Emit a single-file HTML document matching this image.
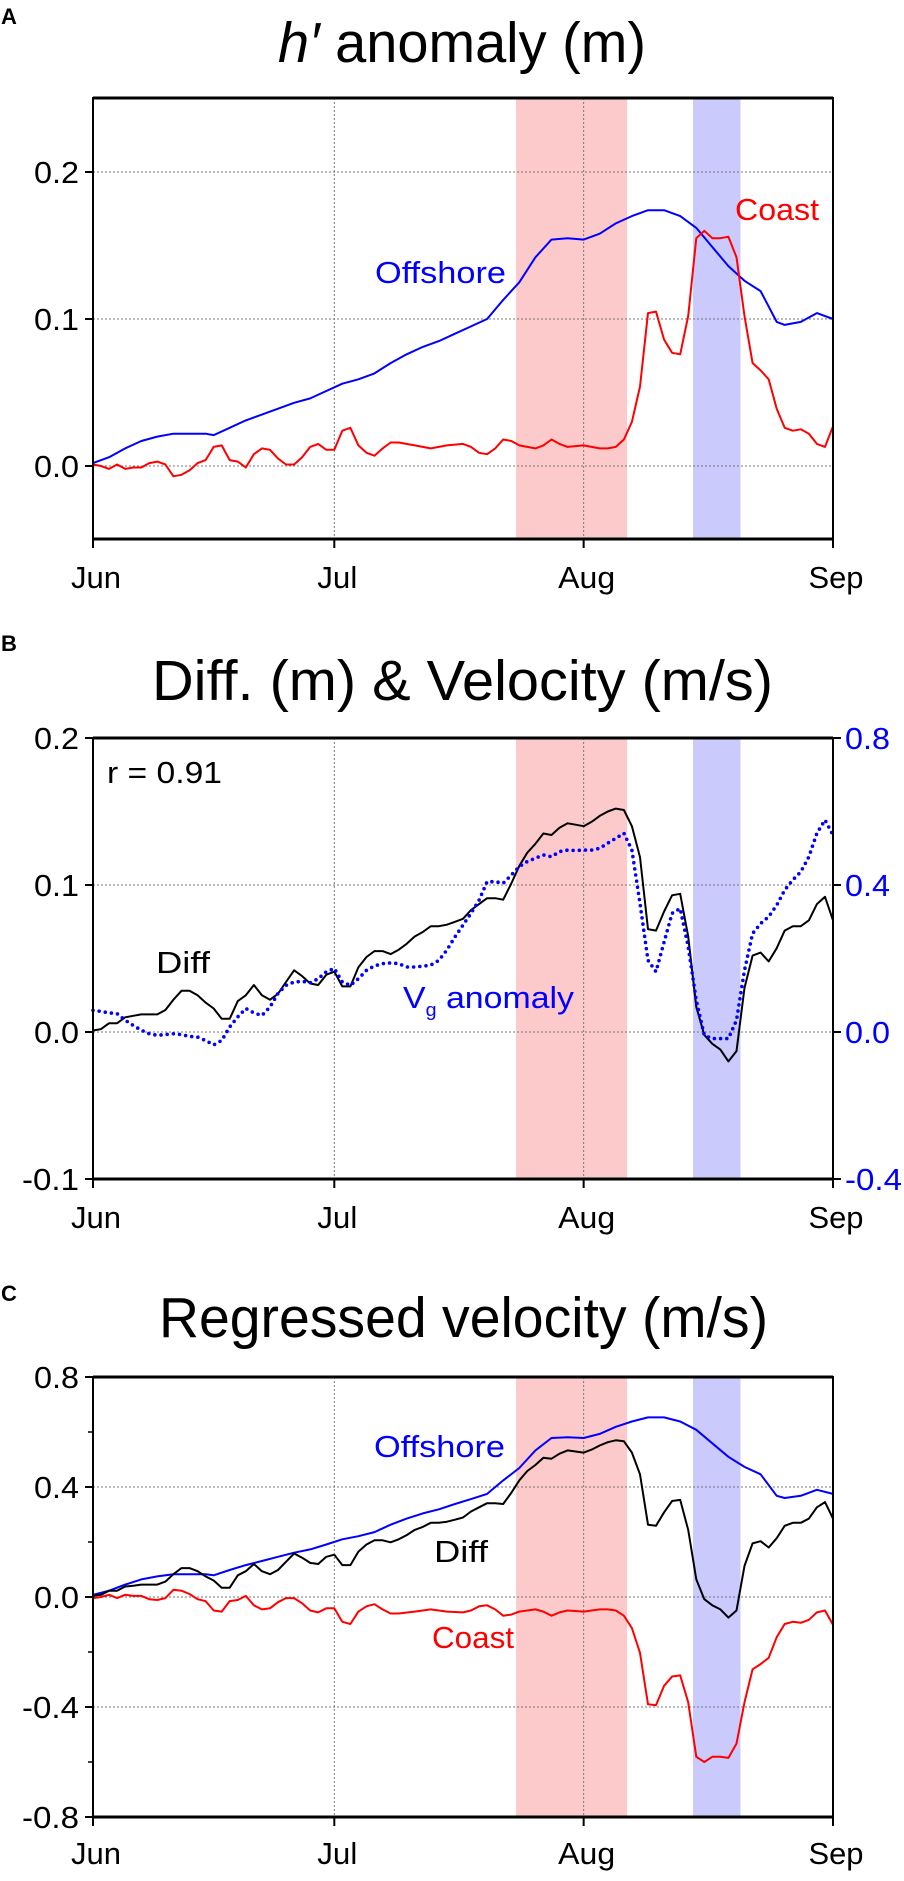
<!DOCTYPE html>
<html><head><meta charset="utf-8"><style>
html,body{margin:0;padding:0;background:#fff}
svg text{font-family:"Liberation Sans",sans-serif}
</style></head><body>
<svg id="fig" width="904" height="1876" viewBox="0 0 904 1876" xmlns="http://www.w3.org/2000/svg"></svg>
<script>
// ---- shared data ----
const monthLabels = ["Jun","Jul","Aug","Sep"];
const monthDays = [0,30,61,92];
const bandStarts = [52.6, 74.6];
const bandEnds = [66.4, 80.5];

// Panel A
const offADays = [0,2,4,6,8,10,12,14,15,17,19,21,23,25,27,29,31,33,35,37,39,41,43,45,47,49,51,53,55,57,59,61,63,65,67,69,71,73,75,77,79,81,83,85,86,88,90,92];
const offAVals = [0.002,0.006,0.012,0.017,0.020,0.022,0.022,0.022,0.021,0.026,0.031,0.035,0.039,0.043,0.046,0.051,0.056,0.059,0.063,0.070,0.076,0.081,0.085,0.090,0.095,0.100,0.113,0.125,0.142,0.154,0.155,0.154,0.158,0.165,0.170,0.174,0.174,0.170,0.162,0.149,0.136,0.126,0.119,0.098,0.096,0.098,0.104,0.100];
const coastDays = [0,1,2,3,4,5,6,7,8,9,10,11,12,13,14,15,16,17,18,19,20,21,22,23,24,25,26,27,28,29,30,31,32,33,34,35,36,37,38,40,42,44,46,47,48,49,50,51,52,53,55,56,57,58,59,61,63,64,65,66,67,68,69,70,71,72,73,74,75,76,77,78,79,80,81,82,83,84,85,86,87,88,89,90,91,92];
const coastAVals = [0.001,0,-0.002,0.001,-0.002,-0.001,-0.001,0.002,0.003,0.001,-0.007,-0.006,-0.003,0.002,0.004,0.013,0.014,0.004,0.003,-0.001,0.008,0.012,0.011,0.005,0.001,0.001,0.006,0.013,0.015,0.011,0.011,0.024,0.026,0.014,0.009,0.007,0.012,0.016,0.016,0.014,0.012,0.014,0.015,0.013,0.009,0.008,0.012,0.018,0.017,0.014,0.012,0.014,0.018,0.015,0.013,0.014,0.012,0.012,0.013,0.018,0.030,0.054,0.104,0.105,0.086,0.077,0.076,0.102,0.155,0.160,0.155,0.155,0.156,0.142,0.102,0.070,0.065,0.059,0.039,0.026,0.024,0.025,0.022,0.015,0.013,0.027];

// Panel B (daily 0..92)
const diffBVals = [0.001,0.002,0.006,0.006,0.010,0.011,0.012,0.012,0.012,0.015,0.022,0.028,0.028,0.025,0.020,0.016,0.009,0.009,0.021,0.025,0.032,0.025,0.022,0.026,0.034,0.042,0.038,0.033,0.032,0.039,0.041,0.031,0.031,0.044,0.051,0.055,0.055,0.053,0.056,0.060,0.065,0.068,0.072,0.072,0.073,0.075,0.077,0.083,0.087,0.091,0.091,0.090,0.101,0.113,0.122,0.128,0.135,0.134,0.139,0.142,0.141,0.140,0.143,0.147,0.150,0.152,0.151,0.140,0.119,0.070,0.069,0.082,0.093,0.094,0.065,0.017,-0.002,-0.008,-0.012,-0.020,-0.013,0.030,0.052,0.054,0.048,0.057,0.069,0.072,0.072,0.076,0.087,0.092,0.076];
const vgBVals = [0.059,0.056,0.052,0.050,0.032,0.018,0.005,-0.005,-0.009,-0.007,-0.005,-0.007,-0.012,-0.014,-0.023,-0.035,-0.023,0.014,0.041,0.064,0.052,0.045,0.068,0.105,0.127,0.136,0.138,0.134,0.145,0.164,0.173,0.136,0.127,0.145,0.168,0.180,0.186,0.188,0.186,0.177,0.177,0.179,0.182,0.195,0.223,0.259,0.291,0.323,0.359,0.409,0.409,0.405,0.427,0.450,0.464,0.473,0.482,0.477,0.491,0.495,0.494,0.495,0.495,0.500,0.514,0.527,0.541,0.495,0.350,0.195,0.164,0.245,0.323,0.336,0.232,0.086,-0.009,-0.018,-0.018,-0.018,0.032,0.168,0.268,0.295,0.314,0.345,0.386,0.414,0.436,0.477,0.541,0.577,0.536];

// Panel C
const offCVals = [0.008,0.023,0.045,0.064,0.075,0.083,0.083,0.083,0.079,0.098,0.116,0.131,0.146,0.161,0.173,0.191,0.21,0.221,0.236,0.263,0.285,0.304,0.319,0.338,0.356,0.375,0.424,0.469,0.533,0.578,0.581,0.578,0.593,0.619,0.638,0.653,0.653,0.638,0.608,0.559,0.51,0.473,0.446,0.368,0.36,0.368,0.39,0.375];
const coastCVals = [-0.004,0,0.008,-0.004,0.008,0.004,0.004,-0.008,-0.011,-0.004,0.026,0.023,0.011,-0.008,-0.015,-0.049,-0.053,-0.015,-0.011,0.004,-0.03,-0.045,-0.041,-0.019,-0.004,-0.004,-0.023,-0.049,-0.056,-0.041,-0.041,-0.09,-0.098,-0.053,-0.034,-0.026,-0.045,-0.06,-0.06,-0.053,-0.045,-0.053,-0.056,-0.049,-0.034,-0.03,-0.045,-0.068,-0.064,-0.053,-0.045,-0.053,-0.068,-0.056,-0.049,-0.053,-0.045,-0.045,-0.049,-0.068,-0.113,-0.203,-0.39,-0.394,-0.323,-0.289,-0.285,-0.383,-0.581,-0.6,-0.581,-0.581,-0.585,-0.533,-0.383,-0.263,-0.244,-0.221,-0.146,-0.098,-0.09,-0.094,-0.083,-0.056,-0.049,-0.101];
const diffCVals = [0.004,0.008,0.023,0.023,0.038,0.041,0.045,0.045,0.045,0.056,0.083,0.105,0.105,0.094,0.075,0.06,0.034,0.034,0.079,0.094,0.12,0.094,0.083,0.098,0.128,0.158,0.143,0.124,0.12,0.146,0.154,0.116,0.116,0.165,0.191,0.206,0.206,0.199,0.21,0.225,0.244,0.255,0.27,0.27,0.274,0.281,0.289,0.311,0.326,0.341,0.341,0.338,0.379,0.424,0.458,0.48,0.506,0.503,0.521,0.533,0.529,0.525,0.536,0.551,0.563,0.57,0.566,0.525,0.446,0.263,0.259,0.308,0.349,0.353,0.244,0.064,-0.008,-0.03,-0.045,-0.075,-0.049,0.113,0.195,0.203,0.18,0.214,0.259,0.27,0.27,0.285,0.326,0.345,0.285];

const ticksA = [0.0,0.1,0.2];
const tickLabelsA = ["0.0","0.1","0.2"];
const ticksBL = [-0.1,0.0,0.1,0.2];
const tickLabelsBL = ["-0.1","0.0","0.1","0.2"];
const ticksBR = [-0.4,0.0,0.4,0.8];
const tickLabelsBR = ["-0.4","0.0","0.4","0.8"];
const ticksC = [-0.8,-0.4,0.0,0.4,0.8];
const tickLabelsC = ["-0.8","-0.4","0.0","0.4","0.8"];
const minorC = [-0.6,-0.2,0.2,0.6];

const NS = "http://www.w3.org/2000/svg";
const svg = document.getElementById("fig");
function mk(tag, attrs, parent){const e=document.createElementNS(NS,tag);for(const k in attrs)e.setAttribute(k,attrs[k]);(parent||svg).appendChild(e);return e;}
const L=93,R=833;
const xS = d => L + d*(R-L)/92;
const seq = n => Array.from({length:n},(_,i)=>i);
const daily = seq(93);

function panel(cfg){
  const g = mk("g",{});
  
  
  const yS = cfg.yS;
  for(let i=0;i<bandStarts.length;i++){
    const r = mk("rect",{x:xS(bandStarts[i]),y:cfg.top,width:xS(bandEnds[i])-xS(bandStarts[i]),height:cfg.bot-cfg.top,fill:i==0?"#fccaca":"#cacafc"},g);
    
    
  }
  [30,61].forEach(d=>{
    const l=mk("line",{x1:xS(d),x2:xS(d),y1:cfg.top,y2:cfg.bot,stroke:"#777","stroke-width":1,"stroke-dasharray":"2,2"},g);
    
    
  });
  cfg.grid.forEach(v=>{
    const l=mk("line",{x1:L,x2:R,y1:yS(v),y2:yS(v),stroke:"#777","stroke-width":1,"stroke-dasharray":"2,2"},g);
    
    
  });
  cfg.series.forEach(s=>{
    const pts = s.days.map((d,i)=>xS(d).toFixed(1)+","+s.y(s.vals[i]).toFixed(1)).join(" ");
    const a = {points:pts,fill:"none",stroke:s.color,"stroke-width":s.dotted?3.6:2,"stroke-linejoin":"round"};
    if(s.dotted){a["stroke-dasharray"]="0,6.2";a["stroke-linecap"]="round";}
    const p=mk("polyline",a,g);
    
    
  });
  const fr=mk("rect",{x:L,y:cfg.top,width:R-L,height:cfg.bot-cfg.top,fill:"none",stroke:"#000","stroke-width":2},g);
  
  
  mk("line",{x1:L,x2:R,y1:cfg.top,y2:cfg.top,stroke:"#000","stroke-width":3},g);
  mk("line",{x1:L,x2:R,y1:cfg.bot,y2:cfg.bot,stroke:"#000","stroke-width":3},g);
  cfg.ticks.forEach((v,i)=>{
    mk("line",{x1:L-8,x2:L,y1:yS(v),y2:yS(v),stroke:"#000","stroke-width":2},g);
    const lab=cfg.tickLabels[i];
    const t=mk("text",{x:L-14,y:yS(v)+11,"text-anchor":"end","font-size":31,textLength:lab.length>3?57:45,lengthAdjust:"spacingAndGlyphs"},g);
    t.textContent=lab;
    
    
  });
  (cfg.minor||[]).forEach(v=>mk("line",{x1:L-5,x2:L,y1:yS(v),y2:yS(v),stroke:"#000","stroke-width":1.5},g));
  monthDays.forEach((d,i)=>{
    mk("line",{x1:xS(d),x2:xS(d),y1:cfg.bot,y2:cfg.bot+9,stroke:"#000","stroke-width":2},g);
    const t=mk("text",{x:xS(d)+3,y:cfg.xlab,"text-anchor":"middle","font-size":31,textLength:[50,40,57,55][i],lengthAdjust:"spacingAndGlyphs"},g);
    t.textContent=monthLabels[i];
    
    
  });
  const tt=mk("text",{x:cfg.titleX,y:cfg.titleY,"font-size":57,textLength:cfg.titleW,lengthAdjust:"spacingAndGlyphs"},g);
  tt.innerHTML=cfg.title;
  
  
  const pl=mk("text",{x:1,y:cfg.letterY,"font-size":22,"font-weight":"bold"},g);
  pl.textContent=cfg.letter;
  
  
  cfg.labels.forEach(lb=>{
    const t=mk("text",{x:lb.x,y:lb.y,"font-size":lb.fs||31,fill:lb.c,textLength:lb.w,lengthAdjust:"spacingAndGlyphs"},g);
    t.innerHTML=lb.t;
    
    
  });
  return g;
}

const yA = v => 466 - v*1470;
panel({name:"panel-a",letter:"A",letterY:24,top:98,bot:539,yS:yA,grid:[0,0.1,0.2],ticks:ticksA,tickLabels:tickLabelsA,xlab:588,
  title:'<tspan font-style="italic">h′</tspan> anomaly (m)',titleX:278,titleY:62,titleW:368,
  series:[{name:"offshore-line",days:offADays,vals:offAVals,y:yA,color:"#0000ff"},{name:"coast-line",days:coastDays,vals:coastAVals,y:yA,color:"#ff0000"}],
  labels:[{t:"Offshore",x:375,y:283,w:131,c:"#0000ff",n:"offshore-label"},{t:"Coast",x:735,y:220,w:84,c:"#ff0000",n:"coast-label"}]});

const yBL = v => 1032 - v*1470;
const yBR = v => 1032 - v*367.5;
const gB = panel({name:"panel-b",letter:"B",letterY:651,top:738,bot:1179,yS:yBL,grid:[0,0.1],ticks:ticksBL,tickLabels:tickLabelsBL,xlab:1228,
  title:'Diff. (m) &amp; Velocity (m/s)',titleX:152,titleY:700,titleW:621,
  series:[{name:"diff-line",days:daily,vals:diffBVals,y:yBL,color:"#000"},{name:"vg-anomaly-dotted-line",days:daily,vals:vgBVals,y:yBR,color:"#0000ff",dotted:true}],
  labels:[{t:"r = 0.91",x:107,y:783,w:115,c:"#000",n:"correlation-label"},{t:"Diff",x:156,y:973,w:54,c:"#000",n:"diff-label"},
          {t:'V<tspan font-size="18" dy="8">g</tspan><tspan dy="-8"> anomaly</tspan>',x:403,y:1008,w:171,c:"#0000ff",n:"vg-anomaly-label"}]});
ticksBR.forEach((v,i)=>{
  mk("line",{x1:R,x2:R+8,y1:yBR(v),y2:yBR(v),stroke:"#000","stroke-width":2},gB);
  const lab=tickLabelsBR[i];
  const t=mk("text",{x:R+12,y:yBR(v)+11,"font-size":31,fill:"#0000ff",textLength:lab.length>3?57:45,lengthAdjust:"spacingAndGlyphs"},gB);
  t.textContent=lab;
  
  
});

const yC = v => 1597 - v*275;
panel({name:"panel-c",letter:"C",letterY:1301,top:1377,bot:1817,yS:yC,grid:[-0.4,0,0.4],ticks:ticksC,tickLabels:tickLabelsC,minor:minorC,xlab:1864,
  title:'Regressed velocity (m/s)',titleX:159,titleY:1337,titleW:609,
  series:[{name:"offshore-line",days:offADays,vals:offCVals,y:yC,color:"#0000ff"},{name:"diff-line",days:daily,vals:diffCVals,y:yC,color:"#000"},{name:"coast-line",days:coastDays,vals:coastCVals,y:yC,color:"#ff0000"}],
  labels:[{t:"Offshore",x:374,y:1457,w:131,c:"#0000ff",n:"offshore-label"},{t:"Diff",x:434,y:1562,w:54,c:"#000",n:"diff-label"},{t:"Coast",x:432,y:1648,w:82,c:"#ff0000",n:"coast-label"}]});
</script>
</body></html>
